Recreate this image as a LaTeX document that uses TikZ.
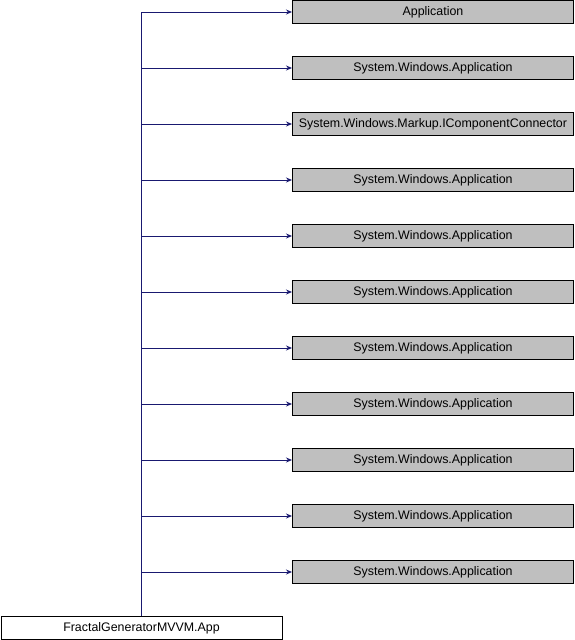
\documentclass[tikz,border=0pt]{standalone}
\usepackage{fontspec}
\setmainfont{Liberation Sans}
\usetikzlibrary{arrows.meta}
\definecolor{edgeblue}{HTML}{191970}
\definecolor{basefill}{HTML}{BFBFBF}
\tikzset{
  cls/.style={draw=black, line width=1pt, minimum width=281pt, minimum height=23pt,
    inner sep=0pt, font=\fontsize{12.4pt}{14pt}\selectfont},
  base/.style={cls, fill=basefill},
  derived/.style={cls, fill=white},
  inherit/.style={draw=edgeblue, line width=1pt, -{Stealth[length=6pt,width=5pt]}}
}
\begin{document}
\begin{tikzpicture}[x=1pt,y=-1pt]
\useasboundingbox (0,0) rectangle (574,640);
\node[derived] (app) at (141.5,628) {FractalGeneratorMVVM.App};
\foreach \k/\t in {0/Application,
                   1/System.Windows.Application,
                   2/System.Windows.Markup.IComponentConnector,
                   3/System.Windows.Application,
                   4/System.Windows.Application,
                   5/System.Windows.Application,
                   6/System.Windows.Application,
                   7/System.Windows.Application,
                   8/System.Windows.Application,
                   9/System.Windows.Application,
                   10/System.Windows.Application} {
  \node[base] (b\k) at (433,12+56*\k) {\t};
  \draw[inherit] (app.north) |- (b\k.west);
}
\end{tikzpicture}
\end{document}
